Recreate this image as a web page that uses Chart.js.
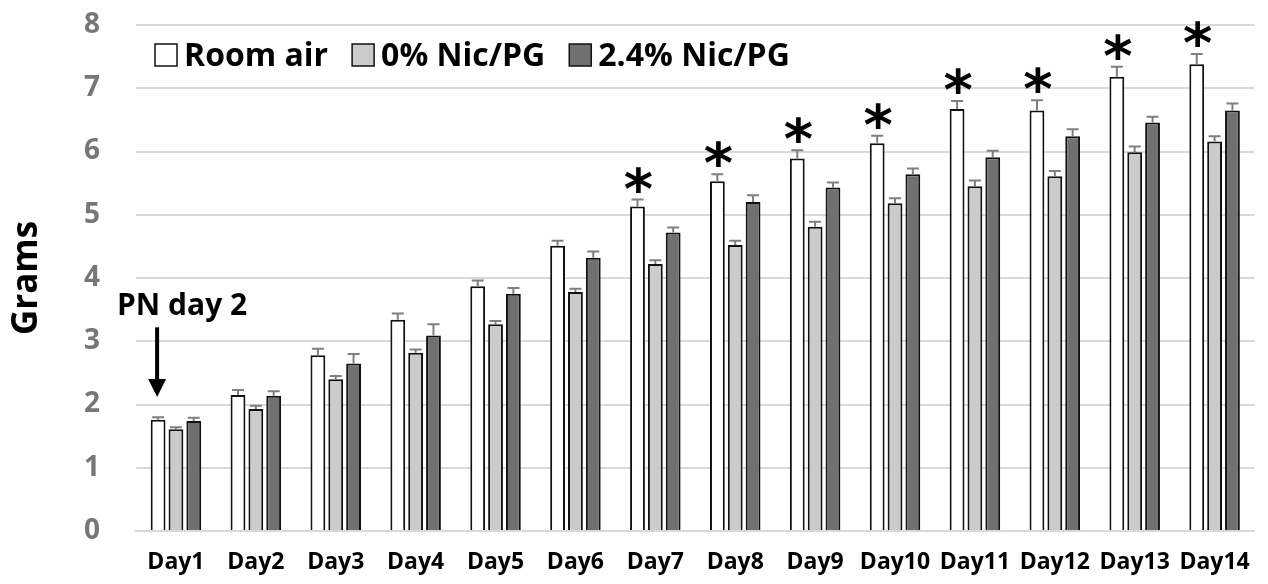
<!DOCTYPE html>
<html>
<head>
<meta charset="utf-8">
<script src="https://cdn.jsdelivr.net/npm/chart.js@4"></script>
<style>
  html, body { margin: 0; padding: 0; background: #ffffff; }
  #wrap { width: 1268px; height: 584px; }
</style>
</head>
<body>
<div id="wrap"><canvas id="c" width="1268" height="584"></canvas></div>
<script>
// Body weight (g) of pups from postnatal day 2 onward
const days = ['Day1', 'Day2', 'Day3', 'Day4', 'Day5', 'Day6', 'Day7', 'Day8', 'Day9', 'Day10', 'Day11', 'Day12', 'Day13', 'Day14'];
const roomAir = [1.76, 2.15, 2.78, 3.34, 3.87, 4.51, 5.13, 5.53, 5.89, 6.13, 6.67, 6.65, 7.18, 7.38];
const nic0    = [1.61, 1.93, 2.40, 2.82, 3.27, 3.78, 4.22, 4.52, 4.81, 5.18, 5.45, 5.61, 5.99, 6.16];
const nic24   = [1.74, 2.14, 2.65, 3.09, 3.75, 4.32, 4.72, 5.20, 5.43, 5.64, 5.91, 6.24, 6.46, 6.65];
// standard errors
const roomAirErr = [0.04, 0.08, 0.10, 0.10, 0.09, 0.08, 0.11, 0.11, 0.13, 0.12, 0.13, 0.16, 0.16, 0.16];
const nic0Err    = [0.03, 0.05, 0.05, 0.05, 0.05, 0.05, 0.06, 0.07, 0.08, 0.08, 0.09, 0.08, 0.09, 0.08];
const nic24Err   = [0.05, 0.07, 0.15, 0.18, 0.09, 0.10, 0.08, 0.11, 0.08, 0.09, 0.10, 0.11, 0.09, 0.11];
// significance marks over the room-air bars
const sigMarks = ['', '', '', '', '', '', '*', '*', '*', '*', '*', '*', '*', '*'];
const yTicks = [0, 1, 2, 3, 4, 5, 6, 7, 8];

const FONT = '"Open Sans", "DejaVu Sans", sans-serif';
const errors = [roomAirErr, nic0Err, nic24Err];

// Legend row drawn inside the plot, top left
const insideLegend = {
  id: 'insideLegend',
  afterDraw(chart) {
    const ctx = chart.ctx;
    ctx.save();
    ctx.font = 'bold 32px ' + FONT;
    ctx.textAlign = 'left';
    ctx.textBaseline = 'alphabetic';
    let x = chart.chartArea.left + 19;
    const boxTop = chart.chartArea.top + 19;
    chart.data.datasets.forEach(ds => {
      ctx.fillStyle = ds.backgroundColor;
      ctx.fillRect(x, boxTop, 22, 22);
      ctx.strokeStyle = '#111111';
      ctx.lineWidth = 1.5;
      ctx.strokeRect(x, boxTop, 22, 22);
      ctx.fillStyle = '#000000';
      ctx.fillText(ds.label, x + 29, boxTop + 22);
      x += 29 + ctx.measureText(ds.label).width + 24;
    });
    ctx.restore();
  }
};

// Upward error bars, significance asterisks and the "PN day 2" arrow
const extras = {
  id: 'extras',
  afterDatasetsDraw(chart) {
    const ctx = chart.ctx;
    const y = chart.scales.y;
    ctx.save();
    chart.data.datasets.forEach((ds, di) => {
      const meta = chart.getDatasetMeta(di);
      meta.data.forEach((bar, i) => {
        const v = ds.data[i];
        const top = y.getPixelForValue(v + errors[di][i]);
        const base = y.getPixelForValue(v);
        ctx.strokeStyle = '#7f7f7f';
        ctx.lineWidth = 2;
        ctx.beginPath();
        ctx.moveTo(bar.x, base);
        ctx.lineTo(bar.x, top);
        ctx.moveTo(bar.x - 6, top);
        ctx.lineTo(bar.x + 6, top);
        ctx.stroke();
      });
    });
    // asterisks
    const raMeta = chart.getDatasetMeta(0);
    ctx.fillStyle = '#000000';
    ctx.font = 'bold 56px "DejaVu Sans", sans-serif';
    ctx.textAlign = 'center';
    ctx.textBaseline = 'alphabetic';
    sigMarks.forEach((m, i) => {
      if (!m) return;
      const capY = y.getPixelForValue(roomAir[i] + roomAirErr[i]);
      const mt = ctx.measureText(m);
      const bottom = capY - 7;
      ctx.fillText(m, raMeta.data[i].x + 1, bottom - mt.actualBoundingBoxDescent);
    });
    // arrow to first room-air bar
    const ax = raMeta.data[0].x - 1;
    const tipY = y.getPixelForValue(2.12);
    const tailY = y.getPixelForValue(3.22);
    ctx.strokeStyle = '#000000';
    ctx.lineWidth = 4;
    ctx.beginPath();
    ctx.moveTo(ax, tailY);
    ctx.lineTo(ax, tipY - 14);
    ctx.stroke();
    ctx.beginPath();
    ctx.moveTo(ax - 9, tipY - 18);
    ctx.lineTo(ax + 9, tipY - 18);
    ctx.lineTo(ax, tipY);
    ctx.closePath();
    ctx.fill();
    ctx.font = 'bold 30px ' + FONT;
    ctx.textAlign = 'left';
    ctx.textBaseline = 'alphabetic';
    ctx.fillText('PN day 2', 117, y.getPixelForValue(3.42));
    ctx.restore();
  }
};

new Chart(document.getElementById('c'), {
  type: 'bar',
  data: {
    labels: days,
    datasets: [
      { label: 'Room air',     data: roomAir, backgroundColor: '#ffffff', borderColor: '#111111', borderWidth: 2 },
      { label: '0% Nic/PG',    data: nic0,    backgroundColor: '#cbcbcb', borderColor: '#111111', borderWidth: 2 },
      { label: '2.4% Nic/PG',  data: nic24,   backgroundColor: '#707070', borderColor: '#111111', borderWidth: 2 }
    ]
  },
  plugins: [extras, insideLegend],
  options: {
    responsive: false,
    animation: false,
    devicePixelRatio: 1,
    layout: { padding: { left: 0, top: 25, right: 7, bottom: 0 } },
    datasets: { bar: { categoryPercentage: 0.67, barPercentage: 0.83 } },
    plugins: {
      tooltip: { enabled: false },
      legend: { display: false }
    },
    scales: {
      x: {
        grid: { display: false, drawTicks: false },
        border: { display: true, color: '#d9d9d9', width: 2 },
        ticks: { color: '#000000', padding: 18, font: { family: FONT, size: 23, weight: 'bold' } },
        afterFit(s) { s.height = 53; }
      },
      y: {
        min: 0,
        max: 8,
        afterBuildTicks(s) { s.ticks = yTicks.map(v => ({ value: v })); },
        // invisible tick marks keep the labels clear of the plot without padding its top
        grid: { color: '#d9d9d9', lineWidth: 2, drawTicks: true, tickLength: 28, tickColor: 'rgba(0,0,0,0)' },
        border: { display: false },
        ticks: { color: '#777777', padding: 8, font: { family: FONT, size: 28, weight: 'bold' } },
        title: { display: true, text: 'Grams', color: '#000000', padding: { top: 6, bottom: 0 }, font: { family: FONT, size: 35, weight: 'bold' } },
        afterFit(s) { s.width = 136; }
      }
    }
  }
});
</script>
</body>
</html>
